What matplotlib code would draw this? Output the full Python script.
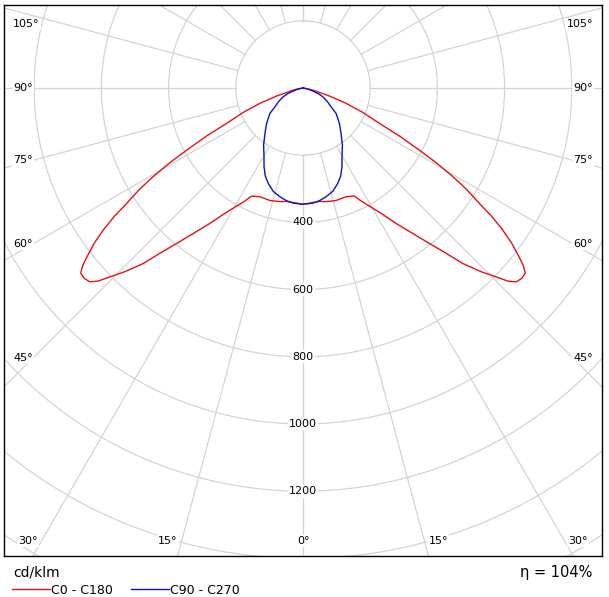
import numpy as np
import matplotlib
matplotlib.use('Agg')
import matplotlib.pyplot as plt

# luminous intensity, cd/klm (one half, mirrored)
red_angles = [0, 8.3, 11.4, 16.3, 21.6, 25.4, 27.2, 29.7, 31.9, 34.5, 36.8, 39.1,
              40.9, 42.3, 44.1, 45.6, 46.7, 47.7, 48.0, 49.0, 50.2, 51.1, 52.0,
              53.4, 54.6, 55.8, 56.8, 58.2, 59.4, 60.7, 61.9, 63.5, 65.2, 67.8,
              70.4, 73.1, 78.3, 84, 90]
c0_c180 = [346, 341, 345, 349, 348, 356, 378, 408, 439, 489, 537, 596,
           651, 706, 761, 803, 838, 857, 859, 863, 861, 843, 816,
           773, 729, 678, 627, 573, 518, 455, 392, 322, 250, 192,
           136, 82, 29, 6, 0]

blue_angles = [0, 4.8, 8.3, 11.9, 16.1, 20, 23.2, 26.4, 29.6, 34.7, 40, 45.8,
               52.5, 56.3, 61.2, 66.2, 69.5, 71.9, 76.7, 90]
c90_c270 = [346, 344, 339, 331, 320, 302, 285, 261, 235, 206, 176, 151,
            124, 100, 82, 64, 50, 35, 17, 0]

rings = [200, 400, 600, 800, 1000, 1200, 1400, 1600, 1800]
ring_labels = [400, 600, 800, 1000, 1200]
spokes = np.arange(0, 360, 15)
side_labels = [105, 90, 75, 60, 45, 30, 15]

# pixel layout of the reference
S = 0.336            # px per cd/klm
cx, cy = 303, 88     # pole in pixels
W, H = 609, 597

def px(x):
    return (x - cx) / S

def py(y):
    return (cy - y) / S

fig = plt.figure(figsize=(W / 100, H / 100), dpi=100)
ax = fig.add_axes([4 / W, (H - 556) / H, 598 / W, 551 / H])
ax.set_xlim(px(4), px(602))
ax.set_ylim(py(556), py(5))
ax.set_xticks([])
ax.set_yticks([])
for s in ax.spines.values():
    s.set_linewidth(1.0)
    s.set_color('black')

grid = '#d4d4d4'
t = np.linspace(0, 2 * np.pi, 721)
for r in rings:
    ax.plot(r * np.sin(t), r * np.cos(t), color=grid, lw=0.9, zorder=1)
for a in np.radians(spokes):
    ax.plot([200 * np.sin(a), 2200 * np.sin(a)], [-200 * np.cos(a), -2200 * np.cos(a)],
            color=grid, lw=0.9, zorder=1)

def full(angs, vals):
    angs = np.array(angs)
    vals = np.array(vals)
    th = np.radians(np.concatenate([-angs[::-1], angs[1:]]))
    r = np.concatenate([vals[::-1], vals[1:]])
    return r * np.sin(th), -r * np.cos(th)

x, y = full(red_angles, c0_c180)
l1, = ax.plot(x, y, color='#e81010', lw=1.0, zorder=3, label='C0 - C180')
x, y = full(blue_angles, c90_c270)
l2, = ax.plot(x, y, color='#1010c8', lw=1.0, zorder=3, label='C90 - C270')

bb = dict(fc='white', ec='none', pad=1.0)
for r in ring_labels:
    ax.text(0, -r, str(r), ha='center', va='center', fontsize=8, bbox=bb, zorder=4)

# angle labels along the frame
x_in, y_top, y_bot = px(33), py(24), py(541)
for a in side_labels:
    ar = np.radians(a)
    yy = -abs(x_in) / np.tan(ar) if a != 90 else 0.0
    for sgn in (-1, 1):
        if yy < y_bot:
            xx = sgn * (abs(y_bot) * np.tan(ar) + 12)
            ax.text(xx, y_bot, f'{a}°', ha='right' if sgn < 0 else 'left',
                    va='center', fontsize=8, bbox=bb, zorder=4)
        else:
            ax.text(sgn * abs(px(13)), min(yy, y_top), f'{a}°',
                    ha='left' if sgn < 0 else 'right', va='center',
                    fontsize=8, bbox=bb, zorder=4)
ax.text(0, y_bot, '0°', ha='center', va='center', fontsize=8, bbox=bb, zorder=4)

fig.text(13 / W, 1 - 573 / H, 'cd/klm', ha='left', va='center', fontsize=10)
fig.text(592 / W, 1 - 573 / H, 'η = 104%', ha='right', va='center', fontsize=10.5)
fig.legend(handles=[l1, l2], loc='center left', bbox_to_anchor=(12 / W, 1 - 590 / H),
           ncol=2, frameon=False, fontsize=9, handlelength=3.0, handletextpad=0.1,
           columnspacing=1.5, borderpad=0, borderaxespad=0)

fig.savefig('out.png', dpi=100)
